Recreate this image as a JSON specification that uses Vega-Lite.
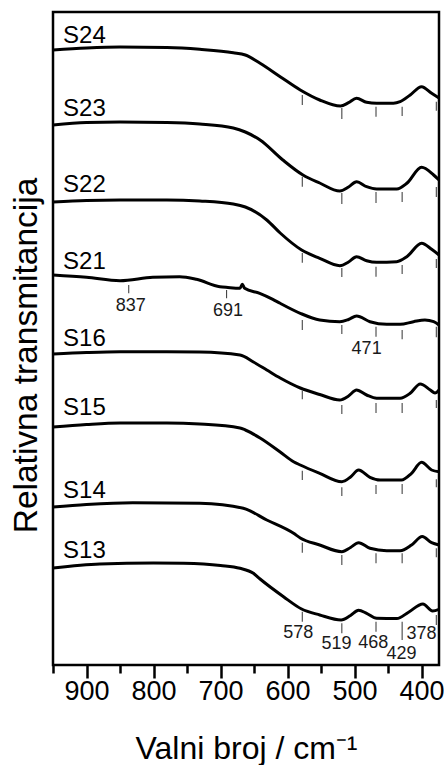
{
  "$schema": "https://vega.github.io/schema/vega-lite/v6.json",
  "width": 386,
  "height": 653,
  "autosize": {"type": "none"},
  "padding": {"left": 53, "top": 12, "right": 5, "bottom": 100},
  "background": "white",
  "config": {
    "font": "Liberation Sans",
    "view": {"stroke": "black", "strokeWidth": 2.5},
    "axisY": {
      "titleFontSize": 33.5, "titleFontWeight": "normal", "titleColor": "black",
      "titlePadding": 10, "titleY": 343,
      "labels": false, "ticks": false, "domain": false, "grid": false
    }
  },
  "datasets": {
    "spectra": [
      {"sample": "S24", "wavenumber": 950, "transmittance": 613},
      {"sample": "S24", "wavenumber": 900, "transmittance": 615},
      {"sample": "S24", "wavenumber": 850, "transmittance": 616},
      {"sample": "S24", "wavenumber": 780, "transmittance": 615.5},
      {"sample": "S24", "wavenumber": 731, "transmittance": 613.7},
      {"sample": "S24", "wavenumber": 681, "transmittance": 610.3},
      {"sample": "S24", "wavenumber": 663, "transmittance": 608},
      {"sample": "S24", "wavenumber": 641, "transmittance": 599.7},
      {"sample": "S24", "wavenumber": 611, "transmittance": 586.3},
      {"sample": "S24", "wavenumber": 581, "transmittance": 573},
      {"sample": "S24", "wavenumber": 552, "transmittance": 563},
      {"sample": "S24", "wavenumber": 521, "transmittance": 557},
      {"sample": "S24", "wavenumber": 509, "transmittance": 560.3},
      {"sample": "S24", "wavenumber": 497, "transmittance": 564.7},
      {"sample": "S24", "wavenumber": 482, "transmittance": 560.7},
      {"sample": "S24", "wavenumber": 467, "transmittance": 559.7},
      {"sample": "S24", "wavenumber": 442, "transmittance": 559.7},
      {"sample": "S24", "wavenumber": 432, "transmittance": 561.3},
      {"sample": "S24", "wavenumber": 417, "transmittance": 568},
      {"sample": "S24", "wavenumber": 400, "transmittance": 576.3},
      {"sample": "S24", "wavenumber": 385, "transmittance": 569.7},
      {"sample": "S24", "wavenumber": 374, "transmittance": 565},

      {"sample": "S23", "wavenumber": 950, "transmittance": 538},
      {"sample": "S23", "wavenumber": 900, "transmittance": 540.5},
      {"sample": "S23", "wavenumber": 850, "transmittance": 541},
      {"sample": "S23", "wavenumber": 780, "transmittance": 540.5},
      {"sample": "S23", "wavenumber": 731, "transmittance": 539},
      {"sample": "S23", "wavenumber": 681, "transmittance": 535},
      {"sample": "S23", "wavenumber": 663, "transmittance": 531},
      {"sample": "S23", "wavenumber": 641, "transmittance": 523},
      {"sample": "S23", "wavenumber": 607, "transmittance": 503},
      {"sample": "S23", "wavenumber": 577, "transmittance": 488},
      {"sample": "S23", "wavenumber": 552, "transmittance": 480},
      {"sample": "S23", "wavenumber": 522, "transmittance": 472},
      {"sample": "S23", "wavenumber": 509, "transmittance": 476},
      {"sample": "S23", "wavenumber": 497, "transmittance": 481.3},
      {"sample": "S23", "wavenumber": 482, "transmittance": 476.3},
      {"sample": "S23", "wavenumber": 467, "transmittance": 474},
      {"sample": "S23", "wavenumber": 437, "transmittance": 474},
      {"sample": "S23", "wavenumber": 422, "transmittance": 479.7},
      {"sample": "S23", "wavenumber": 400, "transmittance": 495.7},
      {"sample": "S23", "wavenumber": 382, "transmittance": 488},
      {"sample": "S23", "wavenumber": 374, "transmittance": 483},

      {"sample": "S22", "wavenumber": 950, "transmittance": 461},
      {"sample": "S22", "wavenumber": 900, "transmittance": 462.5},
      {"sample": "S22", "wavenumber": 850, "transmittance": 463},
      {"sample": "S22", "wavenumber": 780, "transmittance": 463},
      {"sample": "S22", "wavenumber": 731, "transmittance": 462},
      {"sample": "S22", "wavenumber": 681, "transmittance": 459},
      {"sample": "S22", "wavenumber": 663, "transmittance": 456},
      {"sample": "S22", "wavenumber": 631, "transmittance": 443},
      {"sample": "S22", "wavenumber": 611, "transmittance": 430},
      {"sample": "S22", "wavenumber": 579, "transmittance": 413},
      {"sample": "S22", "wavenumber": 552, "transmittance": 404.7},
      {"sample": "S22", "wavenumber": 522, "transmittance": 397.3},
      {"sample": "S22", "wavenumber": 509, "transmittance": 401},
      {"sample": "S22", "wavenumber": 497, "transmittance": 406.3},
      {"sample": "S22", "wavenumber": 482, "transmittance": 402.3},
      {"sample": "S22", "wavenumber": 467, "transmittance": 400.7},
      {"sample": "S22", "wavenumber": 437, "transmittance": 401.3},
      {"sample": "S22", "wavenumber": 422, "transmittance": 406.3},
      {"sample": "S22", "wavenumber": 400, "transmittance": 419.7},
      {"sample": "S22", "wavenumber": 385, "transmittance": 413.7},
      {"sample": "S22", "wavenumber": 374, "transmittance": 408},

      {"sample": "S21", "wavenumber": 950, "transmittance": 388},
      {"sample": "S21", "wavenumber": 900, "transmittance": 385.7},
      {"sample": "S21", "wavenumber": 850, "transmittance": 382.3},
      {"sample": "S21", "wavenumber": 801, "transmittance": 385.7},
      {"sample": "S21", "wavenumber": 761, "transmittance": 386.3},
      {"sample": "S21", "wavenumber": 736, "transmittance": 383.7},
      {"sample": "S21", "wavenumber": 701, "transmittance": 376.3},
      {"sample": "S21", "wavenumber": 689, "transmittance": 375.5},
      {"sample": "S21", "wavenumber": 671, "transmittance": 374.7},
      {"sample": "S21", "wavenumber": 667.5, "transmittance": 378.7},
      {"sample": "S21", "wavenumber": 664, "transmittance": 374.7},
      {"sample": "S21", "wavenumber": 641.5, "transmittance": 369.7},
      {"sample": "S21", "wavenumber": 622, "transmittance": 363.7},
      {"sample": "S21", "wavenumber": 611, "transmittance": 359.7},
      {"sample": "S21", "wavenumber": 581, "transmittance": 349.7},
      {"sample": "S21", "wavenumber": 552, "transmittance": 343},
      {"sample": "S21", "wavenumber": 522, "transmittance": 341.3},
      {"sample": "S21", "wavenumber": 509, "transmittance": 343.5},
      {"sample": "S21", "wavenumber": 497, "transmittance": 347},
      {"sample": "S21", "wavenumber": 477, "transmittance": 341.3},
      {"sample": "S21", "wavenumber": 452, "transmittance": 338.7},
      {"sample": "S21", "wavenumber": 432, "transmittance": 338.7},
      {"sample": "S21", "wavenumber": 412, "transmittance": 341.3},
      {"sample": "S21", "wavenumber": 395, "transmittance": 343},
      {"sample": "S21", "wavenumber": 382, "transmittance": 341.3},
      {"sample": "S21", "wavenumber": 374, "transmittance": 338},

      {"sample": "S16", "wavenumber": 950, "transmittance": 309},
      {"sample": "S16", "wavenumber": 900, "transmittance": 310.5},
      {"sample": "S16", "wavenumber": 850, "transmittance": 311.3},
      {"sample": "S16", "wavenumber": 780, "transmittance": 311.3},
      {"sample": "S16", "wavenumber": 731, "transmittance": 311},
      {"sample": "S16", "wavenumber": 671, "transmittance": 308},
      {"sample": "S16", "wavenumber": 651, "transmittance": 301},
      {"sample": "S16", "wavenumber": 631, "transmittance": 293},
      {"sample": "S16", "wavenumber": 611, "transmittance": 285},
      {"sample": "S16", "wavenumber": 581, "transmittance": 275},
      {"sample": "S16", "wavenumber": 552, "transmittance": 268.5},
      {"sample": "S16", "wavenumber": 522, "transmittance": 263},
      {"sample": "S16", "wavenumber": 509, "transmittance": 267},
      {"sample": "S16", "wavenumber": 497, "transmittance": 273},
      {"sample": "S16", "wavenumber": 482, "transmittance": 268},
      {"sample": "S16", "wavenumber": 467, "transmittance": 264.7},
      {"sample": "S16", "wavenumber": 432, "transmittance": 264.7},
      {"sample": "S16", "wavenumber": 417, "transmittance": 269.7},
      {"sample": "S16", "wavenumber": 402, "transmittance": 279},
      {"sample": "S16", "wavenumber": 387, "transmittance": 273},
      {"sample": "S16", "wavenumber": 380, "transmittance": 270},
      {"sample": "S16", "wavenumber": 374, "transmittance": 273},

      {"sample": "S15", "wavenumber": 950, "transmittance": 236},
      {"sample": "S15", "wavenumber": 900, "transmittance": 238.5},
      {"sample": "S15", "wavenumber": 850, "transmittance": 240},
      {"sample": "S15", "wavenumber": 780, "transmittance": 240},
      {"sample": "S15", "wavenumber": 731, "transmittance": 239},
      {"sample": "S15", "wavenumber": 671, "transmittance": 235},
      {"sample": "S15", "wavenumber": 663, "transmittance": 233},
      {"sample": "S15", "wavenumber": 641, "transmittance": 225},
      {"sample": "S15", "wavenumber": 611, "transmittance": 211},
      {"sample": "S15", "wavenumber": 591, "transmittance": 201.3},
      {"sample": "S15", "wavenumber": 581, "transmittance": 198},
      {"sample": "S15", "wavenumber": 552, "transmittance": 189.7},
      {"sample": "S15", "wavenumber": 519, "transmittance": 181.3},
      {"sample": "S15", "wavenumber": 506, "transmittance": 186},
      {"sample": "S15", "wavenumber": 494, "transmittance": 193},
      {"sample": "S15", "wavenumber": 477, "transmittance": 185.7},
      {"sample": "S15", "wavenumber": 462, "transmittance": 183},
      {"sample": "S15", "wavenumber": 430, "transmittance": 183},
      {"sample": "S15", "wavenumber": 415, "transmittance": 189.7},
      {"sample": "S15", "wavenumber": 400, "transmittance": 200.7},
      {"sample": "S15", "wavenumber": 385, "transmittance": 193},
      {"sample": "S15", "wavenumber": 374, "transmittance": 191.3},

      {"sample": "S14", "wavenumber": 950, "transmittance": 156},
      {"sample": "S14", "wavenumber": 900, "transmittance": 158.5},
      {"sample": "S14", "wavenumber": 831, "transmittance": 160.3},
      {"sample": "S14", "wavenumber": 731, "transmittance": 159.7},
      {"sample": "S14", "wavenumber": 666, "transmittance": 154.7},
      {"sample": "S14", "wavenumber": 631, "transmittance": 143},
      {"sample": "S14", "wavenumber": 591, "transmittance": 129.7},
      {"sample": "S14", "wavenumber": 581, "transmittance": 125},
      {"sample": "S14", "wavenumber": 552, "transmittance": 118},
      {"sample": "S14", "wavenumber": 519, "transmittance": 111.3},
      {"sample": "S14", "wavenumber": 506, "transmittance": 115.5},
      {"sample": "S14", "wavenumber": 494, "transmittance": 120.3},
      {"sample": "S14", "wavenumber": 477, "transmittance": 114.7},
      {"sample": "S14", "wavenumber": 452, "transmittance": 112.3},
      {"sample": "S14", "wavenumber": 432, "transmittance": 112.3},
      {"sample": "S14", "wavenumber": 415, "transmittance": 118},
      {"sample": "S14", "wavenumber": 399, "transmittance": 126.5},
      {"sample": "S14", "wavenumber": 385, "transmittance": 120.3},
      {"sample": "S14", "wavenumber": 374, "transmittance": 118},

      {"sample": "S13", "wavenumber": 950, "transmittance": 95},
      {"sample": "S13", "wavenumber": 880, "transmittance": 99},
      {"sample": "S13", "wavenumber": 800, "transmittance": 100},
      {"sample": "S13", "wavenumber": 755, "transmittance": 99.7},
      {"sample": "S13", "wavenumber": 700, "transmittance": 97.5},
      {"sample": "S13", "wavenumber": 671, "transmittance": 94.7},
      {"sample": "S13", "wavenumber": 651, "transmittance": 89.7},
      {"sample": "S13", "wavenumber": 641, "transmittance": 84},
      {"sample": "S13", "wavenumber": 606, "transmittance": 66.3},
      {"sample": "S13", "wavenumber": 579, "transmittance": 54},
      {"sample": "S13", "wavenumber": 552, "transmittance": 48},
      {"sample": "S13", "wavenumber": 520, "transmittance": 43},
      {"sample": "S13", "wavenumber": 506, "transmittance": 47.5},
      {"sample": "S13", "wavenumber": 494, "transmittance": 52.7},
      {"sample": "S13", "wavenumber": 482, "transmittance": 49.7},
      {"sample": "S13", "wavenumber": 467, "transmittance": 44.7},
      {"sample": "S13", "wavenumber": 437, "transmittance": 44.5},
      {"sample": "S13", "wavenumber": 420, "transmittance": 50.5},
      {"sample": "S13", "wavenumber": 398, "transmittance": 59},
      {"sample": "S13", "wavenumber": 383.5, "transmittance": 52},
      {"sample": "S13", "wavenumber": 374, "transmittance": 53.7}
    ],
    "bands": [
      {"sample": "S24", "wavenumber": 578, "top": 568, "bottom": 558},
      {"sample": "S24", "wavenumber": 519, "top": 555, "bottom": 544},
      {"sample": "S24", "wavenumber": 468, "top": 556.3, "bottom": 546.3},
      {"sample": "S24", "wavenumber": 429, "top": 556.3, "bottom": 547},
      {"sample": "S24", "wavenumber": 378, "top": 561.3, "bottom": 552.3},
      {"sample": "S23", "wavenumber": 578, "top": 486.3, "bottom": 476.3},
      {"sample": "S23", "wavenumber": 519, "top": 470, "bottom": 459},
      {"sample": "S23", "wavenumber": 468, "top": 471, "bottom": 460},
      {"sample": "S23", "wavenumber": 429, "top": 471, "bottom": 461},
      {"sample": "S23", "wavenumber": 378, "top": 476, "bottom": 466},
      {"sample": "S22", "wavenumber": 578, "top": 410, "bottom": 400.3},
      {"sample": "S22", "wavenumber": 519, "top": 395, "bottom": 386},
      {"sample": "S22", "wavenumber": 468, "top": 396.3, "bottom": 386.3},
      {"sample": "S22", "wavenumber": 429, "top": 398, "bottom": 389},
      {"sample": "S22", "wavenumber": 378, "top": 404, "bottom": 395},
      {"sample": "S21", "wavenumber": 837, "top": 378, "bottom": 369.7},
      {"sample": "S21", "wavenumber": 691, "top": 373, "bottom": 364.7},
      {"sample": "S21", "wavenumber": 578, "top": 343, "bottom": 333},
      {"sample": "S21", "wavenumber": 519, "top": 338, "bottom": 329},
      {"sample": "S21", "wavenumber": 468, "top": 336.3, "bottom": 326.3},
      {"sample": "S21", "wavenumber": 429, "top": 333, "bottom": 323.7},
      {"sample": "S21", "wavenumber": 378, "top": 336.3, "bottom": 325.7},
      {"sample": "S16", "wavenumber": 578, "top": 272.3, "bottom": 263.7},
      {"sample": "S16", "wavenumber": 519, "top": 258, "bottom": 249},
      {"sample": "S16", "wavenumber": 468, "top": 260, "bottom": 250},
      {"sample": "S16", "wavenumber": 429, "top": 260, "bottom": 250},
      {"sample": "S16", "wavenumber": 378, "top": 263, "bottom": 255},
      {"sample": "S15", "wavenumber": 578, "top": 192.3, "bottom": 183},
      {"sample": "S15", "wavenumber": 519, "top": 175.7, "bottom": 167},
      {"sample": "S15", "wavenumber": 468, "top": 178, "bottom": 169},
      {"sample": "S15", "wavenumber": 429, "top": 179, "bottom": 169},
      {"sample": "S15", "wavenumber": 378, "top": 183.7, "bottom": 175.7},
      {"sample": "S14", "wavenumber": 578, "top": 120.3, "bottom": 110.3},
      {"sample": "S14", "wavenumber": 519, "top": 108, "bottom": 98},
      {"sample": "S14", "wavenumber": 468, "top": 109.7, "bottom": 99.7},
      {"sample": "S14", "wavenumber": 429, "top": 109.7, "bottom": 99.7},
      {"sample": "S14", "wavenumber": 378, "top": 114.7, "bottom": 105.7},
      {"sample": "S13", "wavenumber": 578, "top": 51.3, "bottom": 41.3},
      {"sample": "S13", "wavenumber": 519, "top": 39.7, "bottom": 29.7},
      {"sample": "S13", "wavenumber": 468, "top": 41.3, "bottom": 31.3},
      {"sample": "S13", "wavenumber": 429, "top": 41.3, "bottom": 23},
      {"sample": "S13", "wavenumber": 378, "top": 48, "bottom": 38}
    ],
    "names": [
      {"sample": "S24", "wavenumber": 935, "transmittance": 627},
      {"sample": "S23", "wavenumber": 935, "transmittance": 554},
      {"sample": "S22", "wavenumber": 935, "transmittance": 477.7},
      {"sample": "S21", "wavenumber": 935, "transmittance": 400.7},
      {"sample": "S16", "wavenumber": 935, "transmittance": 324},
      {"sample": "S15", "wavenumber": 935, "transmittance": 255},
      {"sample": "S14", "wavenumber": 935, "transmittance": 172.5},
      {"sample": "S13", "wavenumber": 935, "transmittance": 112.5}
    ],
    "bandLabels": [
      {"label": "837", "wavenumber": 834, "transmittance": 357},
      {"label": "691", "wavenumber": 689, "transmittance": 352},
      {"label": "471", "wavenumber": 482, "transmittance": 314},
      {"label": "578", "wavenumber": 584, "transmittance": 30.3},
      {"label": "519", "wavenumber": 527, "transmittance": 18.7},
      {"label": "468", "wavenumber": 472, "transmittance": 20.3},
      {"label": "429", "wavenumber": 430, "transmittance": 8.7},
      {"label": "378", "wavenumber": 400, "transmittance": 28.7}
    ]
  },
  "resolve": {"axis": {"x": "independent"}},
  "layer": [
    {
      "data": {"name": "spectra"},
      "mark": {"type": "line", "color": "black", "strokeWidth": 3, "interpolate": "monotone"},
      "encoding": {
        "x": {
          "field": "wavenumber", "type": "quantitative",
          "scale": {"domain": [374, 950], "reverse": true, "nice": false, "zero": false},
          "axis": {
            "orient": "bottom",
            "values": [900, 800, 700, 600, 500, 400],
            "title": "Valni broj / cm⁻¹",
            "titleFontSize": 32, "titleFontWeight": "normal", "titleColor": "black", "titlePadding": 29,
            "labelFontSize": 27, "labelColor": "black", "labelPadding": 0, "labelFlush": false,
            "tickSize": 13, "tickWidth": 2.5, "tickColor": "black",
            "domain": false, "grid": false
          }
        },
        "y": {
          "field": "transmittance", "type": "quantitative",
          "title": "Relativna transmitancija",
          "scale": {"domain": [-2, 651], "nice": false, "zero": false}
        },
        "detail": {"field": "sample", "type": "nominal"}
      }
    },
    {
      "data": {"name": "bands"},
      "mark": {"type": "rule", "color": "#444444", "strokeWidth": 1.1},
      "encoding": {
        "x": {
          "field": "wavenumber", "type": "quantitative",
          "scale": {"domain": [374, 950], "reverse": true, "nice": false, "zero": false},
          "axis": {
            "orient": "bottom",
            "values": [950, 850, 750, 650, 550, 450],
            "title": null, "labels": false,
            "tickSize": 8, "tickWidth": 2.5, "tickColor": "black",
            "domain": false, "grid": false
          }
        },
        "y": {"field": "top", "type": "quantitative", "title": "Relativna transmitancija", "scale": {"domain": [-2, 651], "nice": false, "zero": false}},
        "y2": {"field": "bottom"}
      }
    },
    {
      "data": {"name": "names"},
      "mark": {"type": "text", "align": "left", "baseline": "middle", "fontSize": 24, "color": "black"},
      "encoding": {
        "x": {"field": "wavenumber", "type": "quantitative", "scale": {"domain": [374, 950], "reverse": true, "nice": false, "zero": false}, "axis": null},
        "y": {"field": "transmittance", "type": "quantitative", "title": "Relativna transmitancija", "scale": {"domain": [-2, 651], "nice": false, "zero": false}},
        "text": {"field": "sample", "type": "nominal"}
      }
    },
    {
      "data": {"name": "bandLabels"},
      "mark": {"type": "text", "align": "center", "baseline": "middle", "fontSize": 18, "color": "#1a1a1a"},
      "encoding": {
        "x": {"field": "wavenumber", "type": "quantitative", "scale": {"domain": [374, 950], "reverse": true, "nice": false, "zero": false}, "axis": null},
        "y": {"field": "transmittance", "type": "quantitative", "title": "Relativna transmitancija", "scale": {"domain": [-2, 651], "nice": false, "zero": false}},
        "text": {"field": "label", "type": "nominal"}
      }
    }
  ]
}
